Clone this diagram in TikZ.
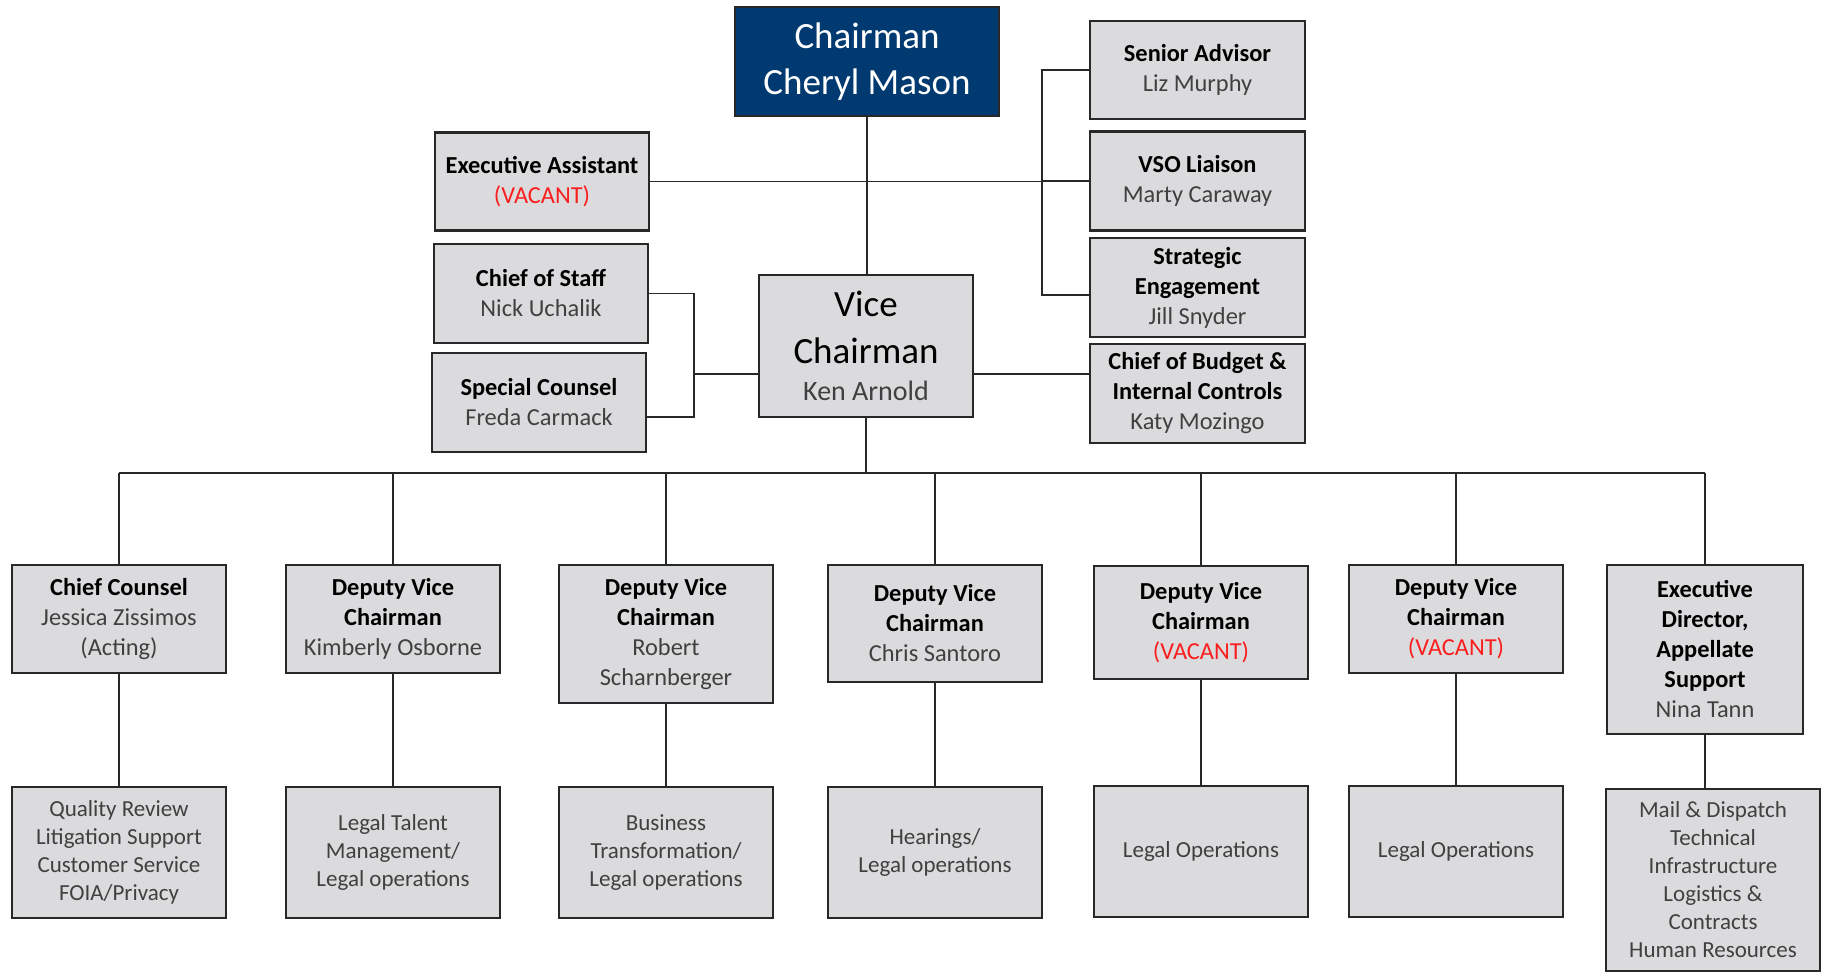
\documentclass[tikz,border=0pt]{standalone}
\usepackage{fontspec}
\setmainfont{Carlito}
\usetikzlibrary{calc}
\definecolor{navy}{RGB}{0,58,112}
\definecolor{boxgray}{RGB}{219,219,221}
\definecolor{edgegray}{RGB}{40,40,40}
\definecolor{namegray}{RGB}{64,64,64}
\definecolor{vred}{RGB}{250,30,30}
\newcommand{\postitle}[1]{\textbf{\color{black}#1}}
\newcommand{\vac}{{\color{vred}(VACANT)}}
\begin{document}
\begin{tikzpicture}[x=0.5pt,y=-0.5pt,
  box/.style={draw=edgegray, line width=1.2pt, fill=boxgray, align=center, inner sep=0pt,
    text=namegray, font=\fontsize{12.2}{15}\selectfont, minimum width=107pt},
  chairbox/.style={box, fill=navy, text=white, font=\fontsize{18.5}{23}\selectfont, minimum width=132pt},
  unitbox/.style={box, font=\fontsize{11.5}{14}\selectfont},
  link/.style={draw=edgegray, line width=0.9pt}]
\useasboundingbox (0,0) rectangle (1826,973);

% top level
\node[chairbox, minimum height=54.5pt] (chair) at (867,61.5) {Chairman\\Cheryl Mason};
\node[box, minimum height=71pt, font=\fontsize{18.5}{23.35}\selectfont] (vc) at (866,346)
  {{\color{black}Vice}\\{\color{black}Chairman}\\[-5pt]\fontsize{14}{23.35}\selectfont Ken Arnold};

% left staff
\node[box, minimum height=49pt] (ea) at (542,181.5) {\postitle{Executive Assistant}\\\vac};
\node[box, minimum height=49.5pt] (cos) at (541,293.5) {\postitle{Chief of Staff}\\Nick Uchalik};
\node[box, minimum height=49.5pt] (sc) at (539,402.5) {\postitle{Special Counsel}\\Freda Carmack};

% right staff
\node[box, minimum height=49pt, minimum width=107.5pt] (sa) at (1197.5,70) {\postitle{Senior Advisor}\\Liz Murphy};
\node[box, minimum height=49.5pt, minimum width=107.5pt] (vso) at (1197.5,181) {\postitle{VSO Liaison}\\Marty Caraway};
\node[box, minimum height=49.5pt, minimum width=107.5pt] (se) at (1197.5,287.5) {\postitle{Strategic}\\\postitle{Engagement}\\Jill Snyder};
\node[box, minimum height=49.5pt, minimum width=107.5pt] (cb) at (1197.5,393.5) {\postitle{Chief of Budget \&}\\\postitle{Internal Controls}\\Katy Mozingo};

% second row
\node[box, minimum height=54pt] (t1) at (119,619) {\postitle{Chief Counsel}\\Jessica Zissimos\\(Acting)};
\node[box, minimum height=54pt] (t2) at (393,619) {\postitle{Deputy Vice}\\\postitle{Chairman}\\Kimberly Osborne};
\node[box, minimum height=69pt] (t3) at (666,634) {\postitle{Deputy Vice}\\\postitle{Chairman}\\Robert\\Scharnberger};
\node[box, minimum height=58.5pt] (t4) at (935,623.5) {\postitle{Deputy Vice}\\\postitle{Chairman}\\Chris Santoro};
\node[box, minimum height=56.5pt] (t5) at (1201,622.5) {\postitle{Deputy Vice}\\\postitle{Chairman}\\\vac};
\node[box, minimum height=54pt] (t6) at (1456,619) {\postitle{Deputy Vice}\\\postitle{Chairman}\\\vac};
\node[box, minimum height=84.5pt, minimum width=98pt] (t7) at (1705,649.5) {\postitle{Executive}\\\postitle{Director,}\\\postitle{Appellate}\\\postitle{Support}\\Nina Tann};

% units
\node[unitbox, minimum height=65.5pt] (b1) at (119,852.5) {Quality Review\\Litigation Support\\Customer Service\\FOIA/Privacy};
\node[unitbox, minimum height=65.5pt] (b2) at (393,852.5) {Legal Talent\\Management/\\Legal operations};
\node[unitbox, minimum height=65.5pt] (b3) at (666,852.5) {Business\\Transformation/\\Legal operations};
\node[unitbox, minimum height=65.5pt] (b4) at (935,852.5) {Hearings/\\Legal operations};
\node[unitbox, minimum height=65.5pt] (b5) at (1201,851.5) {Legal Operations};
\node[unitbox, minimum height=65.5pt] (b6) at (1456,851.5) {Legal Operations};
\node[unitbox, minimum height=91pt] (b7) at (1713,880) {Mail \& Dispatch\\Technical\\Infrastructure\\Logistics \&\\Contracts\\Human Resources};

% helper coordinates
\coordinate (bus) at (0,473);
\coordinate (rb) at (1042,0);
\coordinate (lb) at (694,0);
\coordinate (sej) at ([yshift=-3.75pt]se.west);
\coordinate (scj) at ([yshift=-7.25pt]sc.east);
\coordinate (vcl) at ([yshift=-14pt]vc.west);
\coordinate (vcr) at ([yshift=-14pt]vc.east);

% chairman staff
\draw[link] (chair.south) -- (chair.south |- vc.north);
\draw[link] (ea.east) -- (rb |- ea.east);
\draw[link] (sa.west) -| (rb |- sej) -- (sej);
\draw[link] (vso.west) -- (rb |- vso.west);

% vice chairman staff
\draw[link] (cos.east) -| (lb |- scj) -- (scj);
\draw[link] (vcl) -- (lb |- vcl);
\draw[link] (vcr) -- (cb.west |- vcr);

% bus
\draw[link] (vc.south) -- (vc.south |- bus);
\draw[link] (t1.north |- bus) -- (t7.north |- bus);
\foreach \n in {t1,t2,t3,t4,t5,t6,t7} {
  \draw[link] (\n.north) -- (\n.north |- bus);
}
\foreach \t/\b in {t1/b1,t2/b2,t3/b3,t4/b4,t5/b5,t6/b6,t7/b7} {
  \draw[link] (\t.south) -- (\t.south |- \b.north);
}
\end{tikzpicture}
\end{document}
